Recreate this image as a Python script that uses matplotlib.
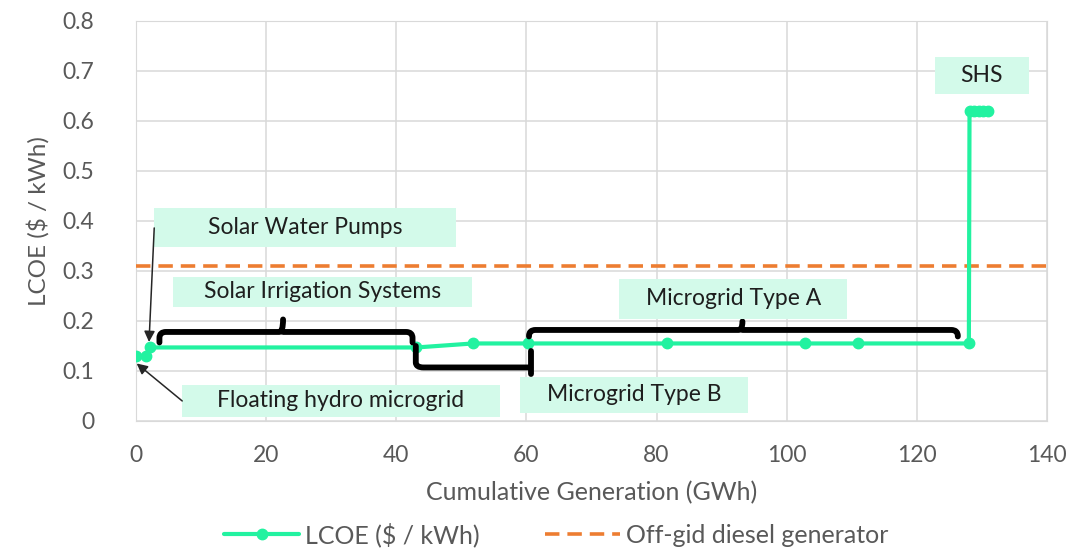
import numpy as np
import matplotlib
matplotlib.use('Agg')
import matplotlib.pyplot as plt
from matplotlib.path import Path
from matplotlib.patches import PathPatch, Rectangle

plt.rcParams['font.family'] = ['Lato', 'DejaVu Sans']

# cumulative generation (GWh) and LCOE ($/kWh)
gen = [0, 1.5, 2.2, 43.1, 51.8, 60.3, 81.6, 102.8, 111.0, 128.0,
       128.1, 128.8, 129.5, 130.2, 130.9]
lcoe = [0.13, 0.13, 0.147, 0.147, 0.155, 0.155, 0.155, 0.155, 0.155, 0.155,
        0.62, 0.62, 0.62, 0.62, 0.62]
diesel = 0.31

xticks = [0, 20, 40, 60, 80, 100, 120, 140]
yticks = [0, 0.1, 0.2, 0.3, 0.4, 0.5, 0.6, 0.7, 0.8]
ytick_labels = ['0', '0.1', '0.2', '0.3', '0.4', '0.5', '0.6', '0.7', '0.8']

GREEN = '#22F2A0'
ORANGE = '#ED7D31'
BOX = '#D3FAEA'
GREY = '#595959'

fig = plt.figure(figsize=(10.76, 5.51), dpi=100)
ax = fig.add_axes([0.1264, 0.236, 0.8466, 0.726])

ax.axhline(diesel, color=ORANGE, lw=2.6, ls=(0, (4, 2.2)), zorder=3,
           label='Off-gid diesel generator')
ax.plot(gen, lcoe, color=GREEN, lw=3, marker='o', ms=7.5,
        solid_capstyle='round', zorder=4, label='LCOE ($ / kWh)')

ax.set_xlim(0, 140)
ax.set_ylim(0, 0.8)
ax.set_xticks(xticks)
ax.set_yticks(yticks)
ax.set_yticklabels(ytick_labels)
ax.grid(True, color='#D9D9D9', lw=1.1)
ax.set_axisbelow(True)
for s in ax.spines.values():
    s.set_color('#D9D9D9')
ax.tick_params(length=0, colors=GREY, labelsize=16.5)
ax.tick_params(axis='y', pad=30)
ax.tick_params(axis='x', pad=17)
ax.set_xlabel('Cumulative Generation (GWh)', color=GREY, fontsize=18, labelpad=11)
ax.set_ylabel('LCOE ($ / kWh)', color=GREY, fontsize=17.5, labelpad=9)


def brace(pts, codes):
    p = PathPatch(Path(pts, codes), fill=False, ec='black', lw=4.2,
                  capstyle='round', joinstyle='round', zorder=5)
    ax.add_patch(p)


M, L, C = Path.MOVETO, Path.LINETO, Path.CURVE3


def hbrace(x0, x1, xt, yend, yline, ytip, r=1.0, dy=0.012):
    s = 1 if ytip > yline else -1
    pts = [(x0, yend), (x0, yline - s * dy), (x0, yline), (x0 + r, yline),
           (xt - r * 0.6, yline), (xt, yline), (xt, ytip),
           (xt, yline), (xt + r * 0.6, yline),
           (x1 - r, yline), (x1, yline), (x1, yline - s * dy), (x1, yend)]
    codes = [M, L, C, C, L, C, C, M, C, L, C, C, L]
    brace(pts, codes)


hbrace(3.6, 42.5, 22.6, 0.157, 0.178, 0.203)
hbrace(60.4, 126.3, 93.2, 0.169, 0.182, 0.199)
# Microgrid Type B brace (tip sits at its right end)
brace([(43.0, 0.15), (43.0, 0.117), (43.0, 0.107), (44.2, 0.107), (60.6, 0.107)],
      [M, L, C, C, L])
brace([(60.7, 0.14), (60.7, 0.094)], [M, L])

# label boxes: text, centre x, centre y, width, height (data units)
labels = [
    ('Solar Water Pumps', 26.0, 0.386, 46.5, 0.078),
    ('Solar Irrigation Systems', 28.7, 0.258, 46.0, 0.06),
    ('Floating hydro microgrid', 31.5, 0.04, 49.0, 0.064),
    ('Microgrid Type B', 76.5, 0.052, 35.0, 0.072),
    ('Microgrid Type A', 91.8, 0.244, 35.0, 0.08),
    ('SHS', 130.0, 0.69, 14.5, 0.074),
]
for txt, cx, cy, w, h in labels:
    ax.add_patch(Rectangle((cx - w / 2, cy - h / 2), w, h, fc=BOX, ec='none',
                           zorder=6, clip_on=False))
    ax.text(cx, cy, txt, ha='center', va='center', fontsize=16.5,
            color='#1E1E1E', zorder=7)

arrow = dict(arrowstyle='-|>', color='#262626', lw=1.1, mutation_scale=16,
             shrinkA=0, shrinkB=0)
ax.annotate('', xy=(2.0, 0.158), xytext=(2.8, 0.386), arrowprops=arrow, zorder=8)
ax.annotate('', xy=(0.1, 0.115), xytext=(7.1, 0.04), arrowprops=arrow,
            zorder=8, annotation_clip=False)

h, l = ax.get_legend_handles_labels()
leg = fig.legend(h[::-1], l[::-1], loc='center', bbox_to_anchor=(0.517, 0.03),
                 ncol=2, frameon=False, fontsize=18, handlelength=3.0,
                 columnspacing=2.6, handletextpad=0.25)
for t in leg.get_texts():
    t.set_color(GREY)

fig.savefig('out.png', dpi=100)
